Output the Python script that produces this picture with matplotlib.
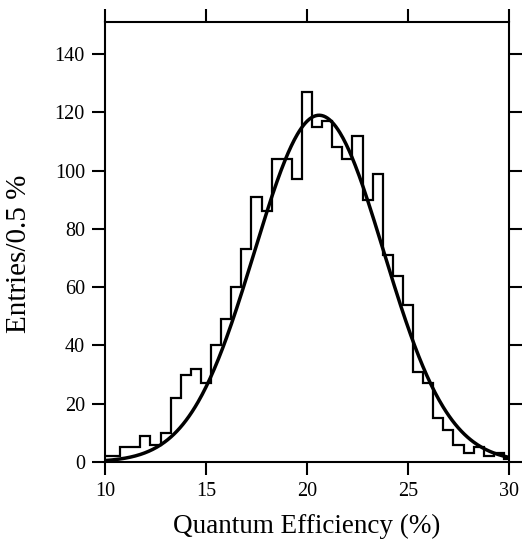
import numpy as np
import matplotlib
matplotlib.use("Agg")
import matplotlib.pyplot as plt

# Bin centres (%), bin width 0.5 %
bin_centers = [10.0, 10.5, 11.0, 11.5, 12.0, 12.5, 13.0, 13.5, 14.0, 14.5,
               15.0, 15.5, 16.0, 16.5, 17.0, 17.5, 18.0, 18.5, 19.0, 19.5,
               20.0, 20.5, 21.0, 21.5, 22.0, 22.5, 23.0, 23.5, 24.0, 24.5,
               25.0, 25.5, 26.0, 26.5, 27.0, 27.5, 28.0, 28.5, 29.0, 29.5, 30.0]
entries = [2, 2, 5, 5, 9, 6, 10, 22, 30, 32,
           27, 40, 49, 60, 73, 91, 86, 104, 104, 97,
           127, 115, 117, 108, 104, 112, 90, 99, 71, 64,
           54, 31, 27, 15, 11, 6, 3, 5, 2, 3, 1]
bin_width = 0.5

# Gaussian fit parameters
fit_amplitude = 119.0
fit_mean = 20.6
fit_sigma = 3.2

x_ticks = [10, 15, 20, 25, 30]
y_ticks = [0, 20, 40, 60, 80, 100, 120, 140]

plt.rcParams['font.family'] = ['Liberation Serif', 'DejaVu Serif']

fig = plt.figure(figsize=(5.23, 5.43), dpi=100)
ax = fig.add_axes([105/523, 1 - 462/543, (509 - 105)/523, (462 - 22)/543])

centers = np.array(bin_centers)
edges = np.append(centers - bin_width / 2, centers[-1] + bin_width / 2)
ax.stairs(entries, edges, color='black', linewidth=1.6)

xf = np.linspace(10, 30, 400)
yf = fit_amplitude * np.exp(-0.5 * ((xf - fit_mean) / fit_sigma) ** 2)
ax.plot(xf, yf, color='black', linewidth=2.5)

ax.set_xlim(10, 30)
ax.set_ylim(0, 151)
ax.set_xticks(x_ticks)
ax.set_yticks(y_ticks)
ax.tick_params(direction='out', length=9.5, width=1.5, labelsize=14.5, pad=5,
               top=True, right=True, labeltop=False, labelright=False)
for s in ax.spines.values():
    s.set_linewidth(1.5)

ax.set_xlabel('Quantum Efficiency (%)', fontsize=19.5, labelpad=9)
ax.set_ylabel('Entries/0.5 %', fontsize=21)
ax.yaxis.set_label_coords(-0.18, 0.473)

fig.savefig('out.png', dpi=100)
